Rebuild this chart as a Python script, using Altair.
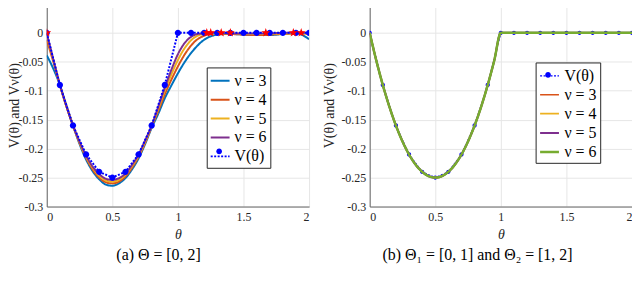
import altair as alt
import pandas as pd

FONT = "Liberation Serif"

# ---------------- data ----------------
THETA_NU = [0, 0.05, 0.1, 0.15, 0.2, 0.25, 0.3, 0.35, 0.4, 0.45, 0.5, 0.55, 0.6, 0.65,
            0.7, 0.75, 0.8, 0.85, 0.9, 0.95, 1.0, 1.05, 1.1, 1.15, 1.2, 1.25, 1.3,
            1.4, 1.5, 1.6, 1.7, 1.8, 1.9, 1.95, 2.0]
NU3_LEFT = [-0.039, -0.062, -0.090, -0.126, -0.160, -0.192, -0.219, -0.239, -0.253, -0.262,
            -0.264, -0.260, -0.251, -0.236, -0.217, -0.192, -0.164, -0.140, -0.113, -0.091,
            -0.070, -0.051, -0.035, -0.022, -0.012, -0.006, -0.003,
            -0.002, -0.003, -0.004, -0.004, -0.002, -0.001, -0.004, -0.011]
NU4_LEFT = [-0.012, -0.050, -0.090, -0.127, -0.160, -0.190, -0.216, -0.236, -0.250, -0.258,
            -0.260, -0.257, -0.248, -0.233, -0.214, -0.190, -0.162, -0.135, -0.106, -0.081,
            -0.058, -0.038, -0.022, -0.011, -0.005, -0.002, -0.001,
            -0.002, -0.003, -0.004, -0.003, -0.002, -0.001, -0.001, -0.002]
NU5_LEFT = [-0.004, -0.047, -0.090, -0.127, -0.160, -0.189, -0.214, -0.233, -0.247, -0.255,
            -0.257, -0.254, -0.245, -0.230, -0.212, -0.188, -0.161, -0.131, -0.100, -0.072,
            -0.047, -0.027, -0.013, -0.005, -0.002, -0.001, -0.001,
            -0.001, -0.002, -0.002, -0.002, -0.001, -0.001, -0.001, -0.001]
NU6_LEFT = [-0.001, -0.046, -0.090, -0.127, -0.160, -0.188, -0.212, -0.231, -0.244, -0.252,
            -0.254, -0.251, -0.243, -0.228, -0.210, -0.186, -0.160, -0.128, -0.095, -0.064,
            -0.037, -0.018, -0.007, -0.002, -0.001, 0.000, 0.000,
            -0.001, -0.001, -0.001, -0.001, 0.000, 0.000, 0.000, -0.001]

THETA_V = [0, 0.1, 0.2, 0.3, 0.4, 0.5, 0.6, 0.7, 0.8, 0.9, 1.0,
           1.1, 1.2, 1.3, 1.4, 1.5, 1.6, 1.7, 1.8, 1.9, 2.0]
V_VALUES = [0, -0.09, -0.16, -0.21, -0.24, -0.25, -0.24, -0.21, -0.16, -0.09, 0,
            0, 0, 0, 0, 0, 0, 0, 0, 0, 0]

THETA_STARS = [0, 1.22, 1.25, 1.33, 1.40, 1.67, 1.88, 1.94]
STAR_VALUES = [0, 0, 0, 0, 0, 0, 0, 0]

THETA_RIGHT = [0, 0.05, 0.1, 0.15, 0.2, 0.25, 0.3, 0.35, 0.4, 0.45, 0.5, 0.55, 0.6, 0.65,
               0.7, 0.75, 0.8, 0.85, 0.9, 0.95, 1.0, 1.5, 2.0]
NU_RIGHT = [0, -0.0475, -0.09, -0.1275, -0.16, -0.1875, -0.21, -0.2275, -0.24, -0.2475,
            -0.25, -0.2475, -0.24, -0.2275, -0.21, -0.1875, -0.16, -0.1275, -0.09, -0.0475,
            0, 0, 0]

LEFT_SERIES = ["ν = 3", "ν = 4", "ν = 5", "ν = 6", "V(θ)"]
LEFT_COLORS = ["#0072BD", "#D95319", "#EDB120", "#7E2F8E", "#0000FF"]
RIGHT_SERIES = ["V(θ)", "ν = 3", "ν = 4", "ν = 5", "ν = 6"]
RIGHT_COLORS = ["#0000FF", "#D95319", "#EDB120", "#7E2F8E", "#77AC30"]

X_TICKS = [0, 0.5, 1, 1.5, 2]
Y_TICKS = [-0.3, -0.25, -0.2, -0.15, -0.1, -0.05, 0, 0.05]

STAR = ("M0,-1L0.235,-0.324L0.951,-0.309L0.38,0.124L0.588,0.809L0,0.4L-0.588,0.809"
        "L-0.38,0.124L-0.951,-0.309L-0.235,-0.324Z")
CIRCLE = "M-0.3,0A0.3,0.3,0,1,1,0.3,0A0.3,0.3,0,1,1,-0.3,0Z"
EMPTY = "M0,0Z"

V_NAME = "V(θ)"
DOT_KEYS = ["k1", "k2", "k3", "k4", "k5"]  # marker-legend keys (labels hidden)

# ---------------- tables ----------------
left_nu = pd.concat([
    pd.DataFrame({"theta": THETA_NU, "value": vals, "series": name})
    for name, vals in zip(LEFT_SERIES[:4], [NU3_LEFT, NU4_LEFT, NU5_LEFT, NU6_LEFT])
])
right_nu = pd.concat([
    pd.DataFrame({"theta": THETA_RIGHT, "value": NU_RIGHT, "series": name})
    for name in RIGHT_SERIES[1:]
])
stars_df = pd.DataFrame({"theta": THETA_STARS, "value": STAR_VALUES})

AX_COMMON = dict(labelFont=FONT, titleFont=FONT, labelFontSize=12, labelColor="#262626",
                 titleColor="#262626", titleFontWeight="normal", gridColor="#e6e6e6",
                 domainColor="#666666", ticks=False)

xenc = alt.X("theta:Q", scale=alt.Scale(domain=[0, 2], nice=False),
             axis=alt.Axis(values=X_TICKS, format="~g", title="θ", titleFontStyle="italic",
                           titleFontSize=14, labelPadding=5, titlePadding=5, **AX_COMMON))


def yenc(title_pad):
    return alt.Y("value:Q", scale=alt.Scale(domain=[-0.3, 0.05], nice=False, zero=False),
                 axis=alt.Axis(values=Y_TICKS, title="V(θ) and Vν(θ)", titleFontSize=14,
                               labelExpr="datum.value == 0 ? '0' : (datum.value < 0 ? '-' : '') + format(abs(datum.value), '.2~f')",
                               labelPadding=4, titlePadding=title_pad, **AX_COMMON))


def panel(nu_df, series, colors, dashes, widths, lx, ly, nu_first, dot_size, caption, title_pad):
    leg = alt.Legend(title=None, orient="none", legendX=lx, legendY=ly,
                     symbolType="stroke", symbolSize=360, labelFont=FONT, labelFontSize=16,
                     labelColor="black", strokeColor="#262626", fillColor="white",
                     padding=3, rowPadding=0, zindex=1, labelOffset=4)
    legb = alt.Legend(title=None, orient="none", legendX=lx, legendY=ly,
                      symbolSize=360, labelFont=FONT, labelFontSize=16, labelExpr="''",
                      symbolFillColor="#0000FF", symbolStrokeWidth=0,
                      padding=3, rowPadding=0, zindex=2, labelOffset=4)
    col = alt.Color("series:N", scale=alt.Scale(domain=series, range=colors), legend=leg)
    dash = alt.StrokeDash("series:N", scale=alt.Scale(domain=series, range=dashes), legend=leg)
    sw = alt.StrokeWidth("series:N", scale=alt.Scale(domain=series, range=widths), legend=leg)

    v_key = DOT_KEYS[series.index(V_NAME)]
    v_df = pd.DataFrame({"theta": THETA_V, "value": V_VALUES, "series": V_NAME, "dot": v_key})

    nu_layer = alt.Chart(nu_df).mark_line(interpolate="monotone", clip=True).encode(
        x=xenc, y=yenc(title_pad), color=col, strokeDash=dash, strokeWidth=sw)
    v_line = alt.Chart(v_df).mark_line(clip=True).encode(
        x=xenc, y=yenc(title_pad), color=col, strokeDash=dash, strokeWidth=sw)
    shapes = [CIRCLE if k == v_key else EMPTY for k in DOT_KEYS]
    v_dots = alt.Chart(v_df).mark_point(filled=True, color="#0000FF", opacity=1,
                                        size=dot_size, clip=True).encode(
        x=xenc, y=yenc(title_pad),
        shape=alt.Shape("dot:N", scale=alt.Scale(domain=DOT_KEYS, range=shapes), legend=legb))
    if nu_first:
        stars = alt.Chart(stars_df).mark_point(filled=True, color="#FF0000", opacity=1,
                                               shape=STAR, size=90, clip=True).encode(
            x=xenc, y=yenc(title_pad))
        layers = [nu_layer, v_line, v_dots, stars]
    else:
        layers = [v_line, v_dots, nu_layer]
    return alt.layer(*layers).properties(
        width=264, height=204,
        title=alt.TitleParams(caption, orient="bottom", frame="bounds", anchor="middle",
                              font=FONT, fontSize=16, fontWeight="normal", color="black",
                              offset=6))


left = panel(left_nu, LEFT_SERIES, LEFT_COLORS,
             [[1, 0], [1, 0], [1, 0], [1, 0], [2, 1.5]], [2, 2, 2, 2, 1.2],
             161, 64, True, 440, "(a) Θ = [0, 2]", -4)
right = panel(right_nu, RIGHT_SERIES, RIGHT_COLORS,
              [[2, 1.5], [1, 0], [1, 0], [1, 0], [1, 0]], [1.2, 2.5, 2.5, 2.5, 2.5],
              167, 59, False, 200, "(b) Θ₁ = [0, 1] and Θ₂ = [1, 2]", 4)

chart = alt.hconcat(left, right, spacing=14).resolve_scale(
    color="independent", strokeDash="independent", strokeWidth="independent",
    shape="independent").properties(
    padding={"top": -11, "left": 0, "right": 0, "bottom": 0}
).configure_view(stroke=None)

chart.save("out.html", embed_options={"renderer": "svg", "actions": False})
